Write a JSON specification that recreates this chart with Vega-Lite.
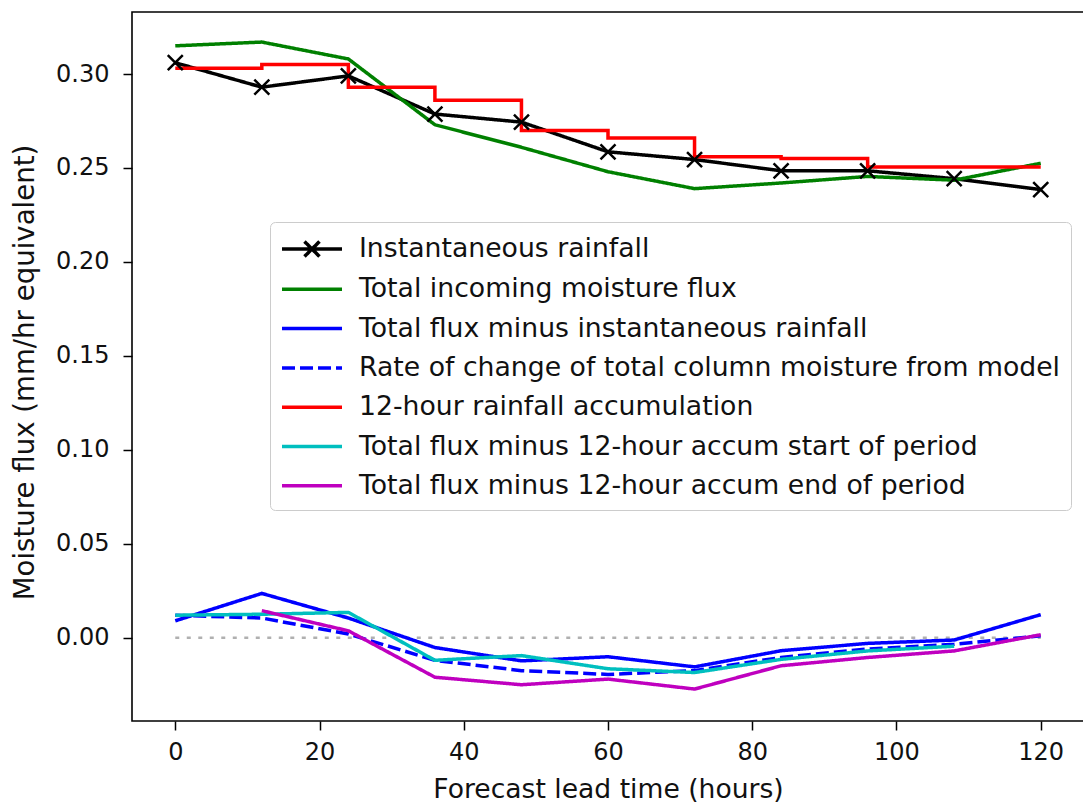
{
  "$schema": "https://vega.github.io/schema/vega-lite/v6.json",
  "width": 952,
  "height": 709,
  "autosize": "none",
  "padding": {"left": 132, "top": 12, "right": 0, "bottom": 81},
  "background": "white",
  "config": {
    "font": "DejaVu Sans",
    "view": {"stroke": "black", "strokeWidth": 1.6},
    "axis": {
      "grid": false, "domain": false, "tickColor": "black", "tickWidth": 1.5, "tickSize": 9,
      "labelFont": "DejaVu Sans", "labelFontSize": 24, "labelColor": "#111111",
      "titleFont": "DejaVu Sans", "titleFontSize": 26.6, "titleColor": "#111111", "titleFontWeight": "normal"
    }
  },
  "datasets": {
    "series": [
      {"s": "Instantaneous rainfall", "t": 0, "v": 0.306},
      {"s": "Instantaneous rainfall", "t": 12, "v": 0.293},
      {"s": "Instantaneous rainfall", "t": 24, "v": 0.299},
      {"s": "Instantaneous rainfall", "t": 36, "v": 0.2787},
      {"s": "Instantaneous rainfall", "t": 48, "v": 0.2744},
      {"s": "Instantaneous rainfall", "t": 60, "v": 0.2586},
      {"s": "Instantaneous rainfall", "t": 72, "v": 0.2545},
      {"s": "Instantaneous rainfall", "t": 84, "v": 0.2485},
      {"s": "Instantaneous rainfall", "t": 96, "v": 0.2485},
      {"s": "Instantaneous rainfall", "t": 108, "v": 0.2443},
      {"s": "Instantaneous rainfall", "t": 120, "v": 0.2385},
      {"s": "Total incoming moisture flux", "t": 0, "v": 0.315},
      {"s": "Total incoming moisture flux", "t": 12, "v": 0.317},
      {"s": "Total incoming moisture flux", "t": 24, "v": 0.308},
      {"s": "Total incoming moisture flux", "t": 36, "v": 0.273},
      {"s": "Total incoming moisture flux", "t": 48, "v": 0.261},
      {"s": "Total incoming moisture flux", "t": 60, "v": 0.248},
      {"s": "Total incoming moisture flux", "t": 72, "v": 0.239},
      {"s": "Total incoming moisture flux", "t": 84, "v": 0.242},
      {"s": "Total incoming moisture flux", "t": 96, "v": 0.2455},
      {"s": "Total incoming moisture flux", "t": 108, "v": 0.2435},
      {"s": "Total incoming moisture flux", "t": 120, "v": 0.2525},
      {"s": "Total flux minus instantaneous rainfall", "t": 0, "v": 0.009},
      {"s": "Total flux minus instantaneous rainfall", "t": 12, "v": 0.0236},
      {"s": "Total flux minus instantaneous rainfall", "t": 24, "v": 0.0105},
      {"s": "Total flux minus instantaneous rainfall", "t": 36, "v": -0.0052},
      {"s": "Total flux minus instantaneous rainfall", "t": 48, "v": -0.0123},
      {"s": "Total flux minus instantaneous rainfall", "t": 60, "v": -0.0101},
      {"s": "Total flux minus instantaneous rainfall", "t": 72, "v": -0.0155},
      {"s": "Total flux minus instantaneous rainfall", "t": 84, "v": -0.0069},
      {"s": "Total flux minus instantaneous rainfall", "t": 96, "v": -0.003},
      {"s": "Total flux minus instantaneous rainfall", "t": 108, "v": -0.0012},
      {"s": "Total flux minus instantaneous rainfall", "t": 120, "v": 0.0123},
      {"s": "Rate of change of total column moisture from model", "t": 0, "v": 0.012},
      {"s": "Rate of change of total column moisture from model", "t": 12, "v": 0.0105},
      {"s": "Rate of change of total column moisture from model", "t": 24, "v": 0.002},
      {"s": "Rate of change of total column moisture from model", "t": 36, "v": -0.012},
      {"s": "Rate of change of total column moisture from model", "t": 48, "v": -0.0175},
      {"s": "Rate of change of total column moisture from model", "t": 60, "v": -0.0195},
      {"s": "Rate of change of total column moisture from model", "t": 72, "v": -0.0175},
      {"s": "Rate of change of total column moisture from model", "t": 84, "v": -0.0105},
      {"s": "Rate of change of total column moisture from model", "t": 96, "v": -0.006},
      {"s": "Rate of change of total column moisture from model", "t": 108, "v": -0.0035},
      {"s": "Rate of change of total column moisture from model", "t": 120, "v": 0.001},
      {"s": "12-hour rainfall accumulation", "t": 0, "v": 0.303},
      {"s": "12-hour rainfall accumulation", "t": 12, "v": 0.305},
      {"s": "12-hour rainfall accumulation", "t": 24, "v": 0.293},
      {"s": "12-hour rainfall accumulation", "t": 36, "v": 0.286},
      {"s": "12-hour rainfall accumulation", "t": 48, "v": 0.270},
      {"s": "12-hour rainfall accumulation", "t": 60, "v": 0.266},
      {"s": "12-hour rainfall accumulation", "t": 72, "v": 0.256},
      {"s": "12-hour rainfall accumulation", "t": 84, "v": 0.255},
      {"s": "12-hour rainfall accumulation", "t": 96, "v": 0.2505},
      {"s": "12-hour rainfall accumulation", "t": 108, "v": 0.2505},
      {"s": "12-hour rainfall accumulation", "t": 120, "v": 0.2505},
      {"s": "Total flux minus 12-hour accum start of period", "t": 0, "v": 0.012},
      {"s": "Total flux minus 12-hour accum start of period", "t": 12, "v": 0.0125},
      {"s": "Total flux minus 12-hour accum start of period", "t": 24, "v": 0.0135},
      {"s": "Total flux minus 12-hour accum start of period", "t": 36, "v": -0.012},
      {"s": "Total flux minus 12-hour accum start of period", "t": 48, "v": -0.0095},
      {"s": "Total flux minus 12-hour accum start of period", "t": 60, "v": -0.0165},
      {"s": "Total flux minus 12-hour accum start of period", "t": 72, "v": -0.0185},
      {"s": "Total flux minus 12-hour accum start of period", "t": 84, "v": -0.0115},
      {"s": "Total flux minus 12-hour accum start of period", "t": 96, "v": -0.007},
      {"s": "Total flux minus 12-hour accum start of period", "t": 108, "v": -0.0045},
      {"s": "Total flux minus 12-hour accum end of period", "t": 12, "v": 0.0144},
      {"s": "Total flux minus 12-hour accum end of period", "t": 24, "v": 0.0037},
      {"s": "Total flux minus 12-hour accum end of period", "t": 36, "v": -0.021},
      {"s": "Total flux minus 12-hour accum end of period", "t": 48, "v": -0.025},
      {"s": "Total flux minus 12-hour accum end of period", "t": 60, "v": -0.022},
      {"s": "Total flux minus 12-hour accum end of period", "t": 72, "v": -0.0273},
      {"s": "Total flux minus 12-hour accum end of period", "t": 84, "v": -0.0149},
      {"s": "Total flux minus 12-hour accum end of period", "t": 96, "v": -0.0105},
      {"s": "Total flux minus 12-hour accum end of period", "t": 108, "v": -0.007},
      {"s": "Total flux minus 12-hour accum end of period", "t": 120, "v": 0.0016}
    ],
    "zero": [{"t": 0, "v": 0}, {"t": 120, "v": 0}]
  },
  "encoding": {
    "x": {
      "field": "t", "type": "quantitative",
      "scale": {"domain": [-6, 126], "nice": false, "zero": false},
      "axis": {"values": [0, 20, 40, 60, 80, 100, 120], "title": "Forecast lead time (hours)", "labelPadding": 10, "titleY": 76, "titleBaseline": "alphabetic"}
    },
    "y": {
      "field": "v", "type": "quantitative",
      "scale": {"domain": [-0.0443, 0.333], "nice": false, "zero": false},
      "axis": {"values": [0, 0.05, 0.1, 0.15, 0.2, 0.25, 0.3], "format": ".2f", "title": "Moisture flux (mm/hr equivalent)", "labelPadding": 14, "titleAngle": 270, "titleX": -99, "titleY": 360, "titleAlign": "center", "titleBaseline": "alphabetic", "titleFontSize": 27.6}
    }
  },
  "layer": [
    {
      "data": {"name": "zero"},
      "mark": {"type": "line", "color": "#b0b0b0", "strokeWidth": 2.5, "strokeDash": [4, 7.5]},
      "encoding": {}
    },
    {
      "data": {"name": "series"},
      "transform": [{"filter": "datum.s !== '12-hour rainfall accumulation'"}],
      "mark": {"type": "line", "strokeWidth": 3.5},
      "encoding": {
        "color": {
          "field": "s", "type": "nominal",
          "scale": {
            "domain": ["Instantaneous rainfall", "Total incoming moisture flux", "Total flux minus instantaneous rainfall", "Rate of change of total column moisture from model", "12-hour rainfall accumulation", "Total flux minus 12-hour accum start of period", "Total flux minus 12-hour accum end of period"],
            "range": ["#000000", "#008000", "#0000ff", "#0000ff", "#ff0000", "#00bfbf", "#bf00bf"]
          },
          "legend": {
            "orient": "none", "legendX": 138, "legendY": 210, "title": null,
            "symbolSize": 900, "symbolStrokeWidth": 3.5, "symbolOffset": 15,
            "labelFont": "DejaVu Sans", "labelFontSize": 26.7, "labelColor": "#111111", "labelLimit": 0, "labelOffset": 30,
            "padding": 10, "rowPadding": 8.3,
            "strokeColor": "#cccccc", "fillColor": "rgba(255,255,255,0.85)", "cornerRadius": 5,
            "encode": {
              "symbols": {
                "update": {
                  "shape": [
                    {"test": "datum.value === 'Instantaneous rainfall'", "value": "M-2,0H2M-0.5,-0.5L0.5,0.5M-0.5,0.5L0.5,-0.5"},
                    {"value": "M-2,0H2"}
                  ],
                  "fill": {"value": "transparent"}
                }
              }
            }
          }
        },
        "strokeDash": {
          "field": "s", "type": "nominal",
          "scale": {
            "domain": ["Instantaneous rainfall", "Total incoming moisture flux", "Total flux minus instantaneous rainfall", "Rate of change of total column moisture from model", "12-hour rainfall accumulation", "Total flux minus 12-hour accum start of period", "Total flux minus 12-hour accum end of period"],
            "range": [[1, 0], [1, 0], [1, 0], [13, 5], [1, 0], [1, 0], [1, 0]]
          },
          "legend": {
            "orient": "none", "legendX": 138, "legendY": 210, "title": null,
            "symbolSize": 900, "symbolStrokeWidth": 3.5, "symbolOffset": 15,
            "labelFont": "DejaVu Sans", "labelFontSize": 26.7, "labelColor": "#111111", "labelLimit": 0, "labelOffset": 30,
            "padding": 10, "rowPadding": 8.3,
            "strokeColor": "#cccccc", "fillColor": "rgba(255,255,255,0.85)", "cornerRadius": 5
          }
        }
      }
    },
    {
      "data": {"name": "series"},
      "transform": [{"filter": "datum.s === '12-hour rainfall accumulation'"}],
      "mark": {"type": "line", "strokeWidth": 3.5, "interpolate": "step-after"},
      "encoding": {"color": {"field": "s", "type": "nominal"}}
    },
    {
      "data": {"name": "series"},
      "transform": [{"filter": "datum.s === 'Instantaneous rainfall'"}],
      "mark": {"type": "point", "shape": "M-1,-1L1,1M-1,1L1,-1", "size": 225, "filled": false, "strokeWidth": 2.5, "color": "black", "opacity": 1},
      "encoding": {}
    }
  ]
}
